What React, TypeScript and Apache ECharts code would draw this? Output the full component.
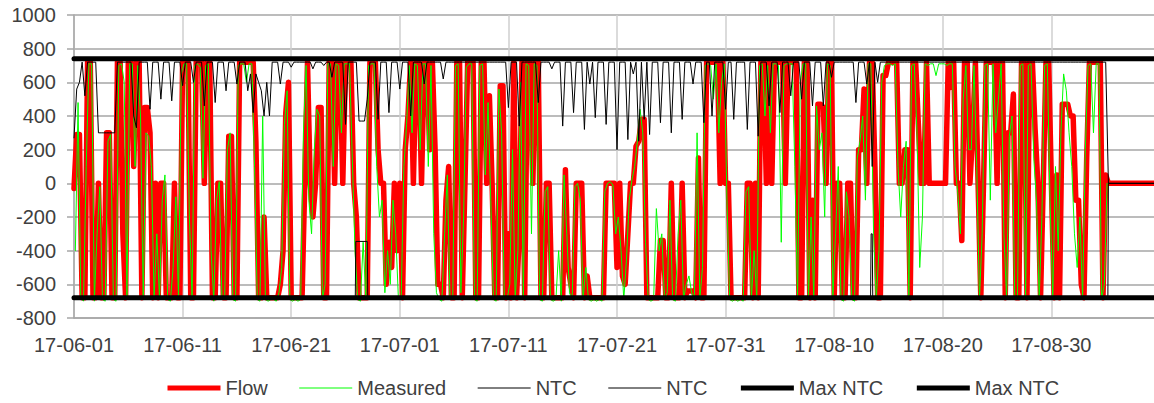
import React, { useEffect, useRef } from "react";
import * as echarts from "echarts";

// x ticks every 10 days from 2017-06-01 (day 0)
const xTickLabels = [
  "17-06-01", "17-06-11", "17-06-21", "17-07-01", "17-07-11", "17-07-21",
  "17-07-31", "17-08-10", "17-08-20", "17-08-30", "17-09-09",
];

const legendNames: Record<string, string> = {
  Flow: "Flow",
  Measured: "Measured",
  "NTC (1)": "NTC",
  "NTC (2)": "NTC",
  "Max NTC (1)": "Max NTC",
  "Max NTC (2)": "Max NTC",
};

// Flow, sampled every 6 hours (4 per day), 10 days per array
const flowJun01 = [-30,290,290,-680,-680,720,720,-680,-680,0, -680,-680,300,300,-680,-680,720,720,-300,-680, 720,720,100,720,720,-680,450,450,300,-680, 0,-680,0,0,-680,-680,-680,0,-680,-680];
const flowJun11 = [720,720,720,-680,-680,720,720,720,0,720, 720,-680,-680,0,0,-680,-680,280,280,-680, -680,720,720,720,720,720,720,250,-680,-680, -200,-680,-680,-680,-680,-680,-600,-400,420,600];
const flowJun21 = [-680,-680,-680,-680,-680,0,720,0,-200,0, 450,450,-680,-680,720,720,0,720,720,0, 720,720,720,0,-200,-680,-680,-680,-680,720, 720,720,200,0,0,-600,-350,-500,0,-400];
const flowJul01 = [0,-680,200,400,720,0,720,720,0,720, 720,200,720,200,-600,-600,-680,-100,100,-680, -680,720,720,-680,0,720,720,720,-680,-680, 720,720,0,520,0,-680,-680,580,580,-680];
const flowJul11 = [-300,-680,720,-680,-300,720,-680,720,720,0, 720,720,-680,-680,0,0,-680,-680,-680,-680, -680,80,-500,-600,-680,0,0,0,-680,-550, -680,-680,-680,-680,-680,-680,0,0,0,0];
const flowJul21 = [-500,0,-550,-600,-300,0,0,220,250,380, 380,-680,-680,-680,-680,-680,-340,-340,-680,-680, 0,-680,-680,-680,0,-680,-640,-640,-640,-680, 150,-680,-680,720,720,720,720,720,0,720];
const flowJul31 = [0,0,-680,-680,-680,-680,-680,-680,0,0, -680,0,-680,720,720,0,720,0,720,720, 720,720,0,720,720,720,720,-680,-680,720, 720,-680,-100,-680,470,470,450,0,720,720];
const flowAug10 = [-680,0,0,-680,-680,0,0,-680,-680,200, 200,560,0,720,720,100,-680,-680,640,640, 720,720,720,720,0,0,200,200,-680,720, 720,350,0,0,720,0,0,0,0,0];
const flowAug20 = [0,0,720,570,720,0,0,-340,720,720, 0,300,720,0,-680,0,720,720,720,720, 0,720,720,-680,300,300,530,-680,-680,720, 720,-680,720,720,320,0,-680,0,720,720];
const flowAug30 = [0,-680,50,-680,470,470,470,400,400,-100, -100,-600,-680,150,720,720,720,720,720,-680, 50];
const flowTail = [[95.25, 0], [100, 0]];

// Measured, sampled every 6 hours, offset by 3 hours
const measJun01 = [-400,480,-680,-700,100,710,710,-700,-300,-20, -690,-700,250,290,-690,-700,700,710,600,-690, 710,710,100,700,400,-690,300,280,100,-690, -300,-690,-100,50,-690,-700,-500,-80,-690,650];
const measJun11 = [710,710,-200,-690,700,710,690,30,700,710, -400,-700,-100,10,-690,-690,200,300,-690,-700, 700,710,710,600,710,710,100,-690,-700,400, -690,-700,-690,-690,-700,-650,-500,350,550,-690];
const measJun21 = [-700,-690,-700,-690,300,700,-100,-300,200,440, 400,-690,-600,710,710,100,710,700,300,710, 710,710,150,-400,-690,-700,-350,-690,700,710, 710,100,-200,-100,-650,-400,-600,-100,-300,-690];
const measJul01 = [-690,100,350,700,300,710,700,200,710,710, 100,700,-300,-650,-690,-700,-300,50,-690,-690, 700,710,-650,-200,690,710,710,-690,-700,700, 710,50,480,-100,-690,-700,560,300,-690,-690];
const measJul11 = [-600,200,-690,-400,600,-690,710,700,-300,710, 700,-690,-700,-50,-20,-690,-700,-690,-400,-700, 50,-300,-650,-690,-20,0,-100,-690,-500,-690, -700,-690,-700,-690,-700,-50,0,10,-10,-300];
const measJul21 = [-200,-400,-690,-450,-100,20,100,250,440,300, -350,-690,-700,-690,-150,-400,-300,-690,-650,-100, -690,-700,-300,-100,-690,-600,-550,-650,-690,300, -690,-500,700,710,700,500,710,300,600,710];
const measJul31 = [-100,-690,-700,-690,-700,-690,-700,-50,-20,-690, -400,-690,700,710,400,700,300,710,710,700, -350,700,710,710,710,100,-690,600,710,710, -690,-200,-690,460,200,300,-200,710,700,-690];
const measAug10 = [-300,100,-690,-700,-50,-200,-690,-700,150,250, 400,-100,710,710,-300,-690,-400,600,700,710, 710,700,710,100,-200,100,250,-690,700,710, 300,-500,-200,710,700,710,710,640,710,710];
const measAug20 = [710,700,710,710,100,-50,-300,500,700,200, 200,700,100,-690,-300,700,710,-100,710,300, 500,710,-300,-690,280,400,-690,-690,700,710, -690,700,710,150,-100,-690,-200,700,710,-100];
const measAug30 = [-690,100,-400,300,650,550,300,100,-300,-500, -200,-690,200,700,710,300,710,710,-690,-600, 0];

// NTC (upper), sampled every 6 hours
const ntcJun01 = [270,560,600,720,520,720,720,720,720,300, 300,300,300,300,300,300,720,720,720,720, 720,720,400,330,720,720,720,720,440,720, 720,720,500,720,720,720,490,720,720,720];
const ntcJun11 = [580,720,720,720,600,720,720,720,460,720, 720,720,480,720,720,720,550,720,720,720, 590,720,720,720,550,650,420,650,600,550, 400,600,400,720,720,720,590,720,720,720];
const ntcJun21 = [690,720,720,720,720,720,720,720,680,720, 720,720,700,720,720,630,720,720,720,720, 350,720,720,720,720,370,370,370,500,720, 720,720,380,720,720,720,420,720,720,720];
const ntcJul01 = [560,720,720,720,400,720,720,720,720,590, 720,720,720,720,720,720,620,720,720,720, 720,720,720,720,720,720,720,720,720,720, 720,720,720,720,720,720,720,720,720,720];
const ntcJul11 = [450,720,720,720,340,720,720,720,720,720, 720,480,720,720,720,720,680,720,720,720, 340,720,720,720,420,720,720,720,320,720, 590,720,390,720,720,720,350,720,720,720];
const ntcJul21 = [200,720,720,720,260,720,650,720,250,720, 380,720,290,720,720,720,360,720,720,720, 300,720,720,720,380,720,720,720,590,720, 720,720,360,720,720,400,720,720,720,720];
const ntcJul31 = [440,720,720,380,720,720,720,720,320,720, 720,720,280,720,720,720,460,720,720,720, 420,720,720,720,520,720,720,720,500,720, 720,720,460,720,720,720,460,720,720,630];
const ntcAug10 = [720,720,720,720,720,720,720,720,480,720, 720,720,590,720,100,720,600,720,720,720, 720,720,720,720,720,720,720,720,720,720, 720,720,720,720,720,720,720,720,720,720];
const ntcAug20 = [720,720,720,720,720,720,720,720,720,720, 720,720,720,720,720,720,720,720,720,720, 720,720,720,720,720,720,720,720,720,720, 720,720,720,720,720,720,720,720,720,720];
const ntcAug30 = [720,720,720,720,720,720,720,720,720,720, 720,720,720,720,720,720,720,720,720,720, 720];
const ntcTail = [[95.25, 0], [100, 0]];

// NTC (lower), [day, value]
const ntcLowerPoints = [
  [0, -680], [25.9, -680], [25.95, -345], [27.0, -345], [27.05, -680],
  [73.35, -680], [73.4, -300], [73.5, -300], [73.55, -680],
  [95.2, -680], [95.25, 0], [100, 0],
];

// Max NTC, [day, value]
const maxNtcUpper = [[0, 740], [100, 740]];
const maxNtcLower = [[0, -680], [100, -680]];

const STEP = 0.25; // days per sample
const FONT = "'Liberation Sans', Arial, sans-serif";
const TEXT = "#404040";

export default function App() {
  const ref = useRef<HTMLDivElement>(null);

  useEffect(() => {
    if (!ref.current) return;
    const chart = echarts.init(ref.current, null, { renderer: "svg" });

    const flow = [
      ...flowJun01, ...flowJun11, ...flowJun21, ...flowJul01, ...flowJul11,
      ...flowJul21, ...flowJul31, ...flowAug10, ...flowAug20, ...flowAug30,
    ].map((v, i) => [i * STEP, v]).concat(flowTail);

    const measured = [
      ...measJun01, ...measJun11, ...measJun21, ...measJul01, ...measJul11,
      ...measJul21, ...measJul31, ...measAug10, ...measAug20, ...measAug30,
    ].map((v, i) => [(i + 0.5) * STEP, v]);

    const ntcUpper = [
      ...ntcJun01, ...ntcJun11, ...ntcJun21, ...ntcJul01, ...ntcJul11,
      ...ntcJul21, ...ntcJul31, ...ntcAug10, ...ntcAug20, ...ntcAug30,
    ].map((v, i) => [i * STEP, v]).concat(ntcTail);

    const line = (name: string, data: number[][], color: string, width: number) => ({
      name,
      type: "line",
      data,
      symbol: "none",
      showSymbol: false,
      silent: true,
      itemStyle: { color },
      lineStyle: { color, width, join: "round", cap: "round" },
    });

    const legendItem = (name: string, color: string, width: number) => ({
      name,
      itemStyle: { opacity: 0 },
      lineStyle: { color, width, cap: "butt" },
    });

    chart.setOption({
      animation: false,
      backgroundColor: "#ffffff",
      grid: { left: 74, right: 10, top: 15, bottom: 85 },
      legend: {
        top: 376,
        left: 163,
        itemWidth: 53,
        itemHeight: 12,
        itemGap: 31,
        padding: 2,
        itemStyle: { opacity: 0 },
        textStyle: { fontFamily: FONT, fontSize: 20, lineHeight: 20, color: TEXT },
        formatter: (name: string) => legendNames[name] ?? name,
        data: [
          legendItem("Flow", "#FF0000", 5),
          legendItem("Measured", "#00FF00", 1),
          legendItem("NTC (1)", "#000000", 1),
          legendItem("NTC (2)", "#000000", 1),
          legendItem("Max NTC (1)", "#000000", 5),
          legendItem("Max NTC (2)", "#000000", 5),
        ],
      },
      xAxis: {
        type: "value",
        min: 0,
        max: 100,
        interval: 10,
        axisLine: { show: true, onZero: false, lineStyle: { color: "#A6A6A6", width: 1.5 } },
        axisTick: { show: false },
        splitLine: { show: true, lineStyle: { color: "#CFCFCF", width: 1.5 } },
        axisLabel: {
          fontFamily: FONT,
          fontSize: 20,
          color: TEXT,
          margin: 17,
          showMaxLabel: false,
          formatter: (v: number) => xTickLabels[Math.round(v / 10)] ?? "",
        },
      },
      yAxis: {
        type: "value",
        min: -800,
        max: 1000,
        interval: 200,
        axisLine: { show: true, onZero: false, lineStyle: { color: "#A6A6A6", width: 1.5 } },
        axisTick: { show: true, length: 7, lineStyle: { color: "#A6A6A6", width: 1.5 } },
        splitLine: { show: true, lineStyle: { color: "#A6A6A6", width: 1.5 } },
        axisLabel: {
          fontFamily: FONT,
          fontSize: 20,
          color: TEXT,
          margin: 18,
          formatter: (v: number) => String(v),
        },
      },
      series: [
        line("Flow", flow, "#FF0000", 5.5),
        line("Measured", measured, "#00FF00", 1),
        line("NTC (1)", ntcUpper, "#000000", 1),
        line("NTC (2)", ntcLowerPoints, "#000000", 1),
        line("Max NTC (1)", maxNtcUpper, "#000000", 5),
        line("Max NTC (2)", maxNtcLower, "#000000", 5),
      ],
    });

    return () => chart.dispose();
  }, []);

  return (
    <div
      ref={ref}
      style={{ position: "fixed", left: 0, top: 0, width: 1170, height: 403, background: "#fff" }}
    />
  );
}
